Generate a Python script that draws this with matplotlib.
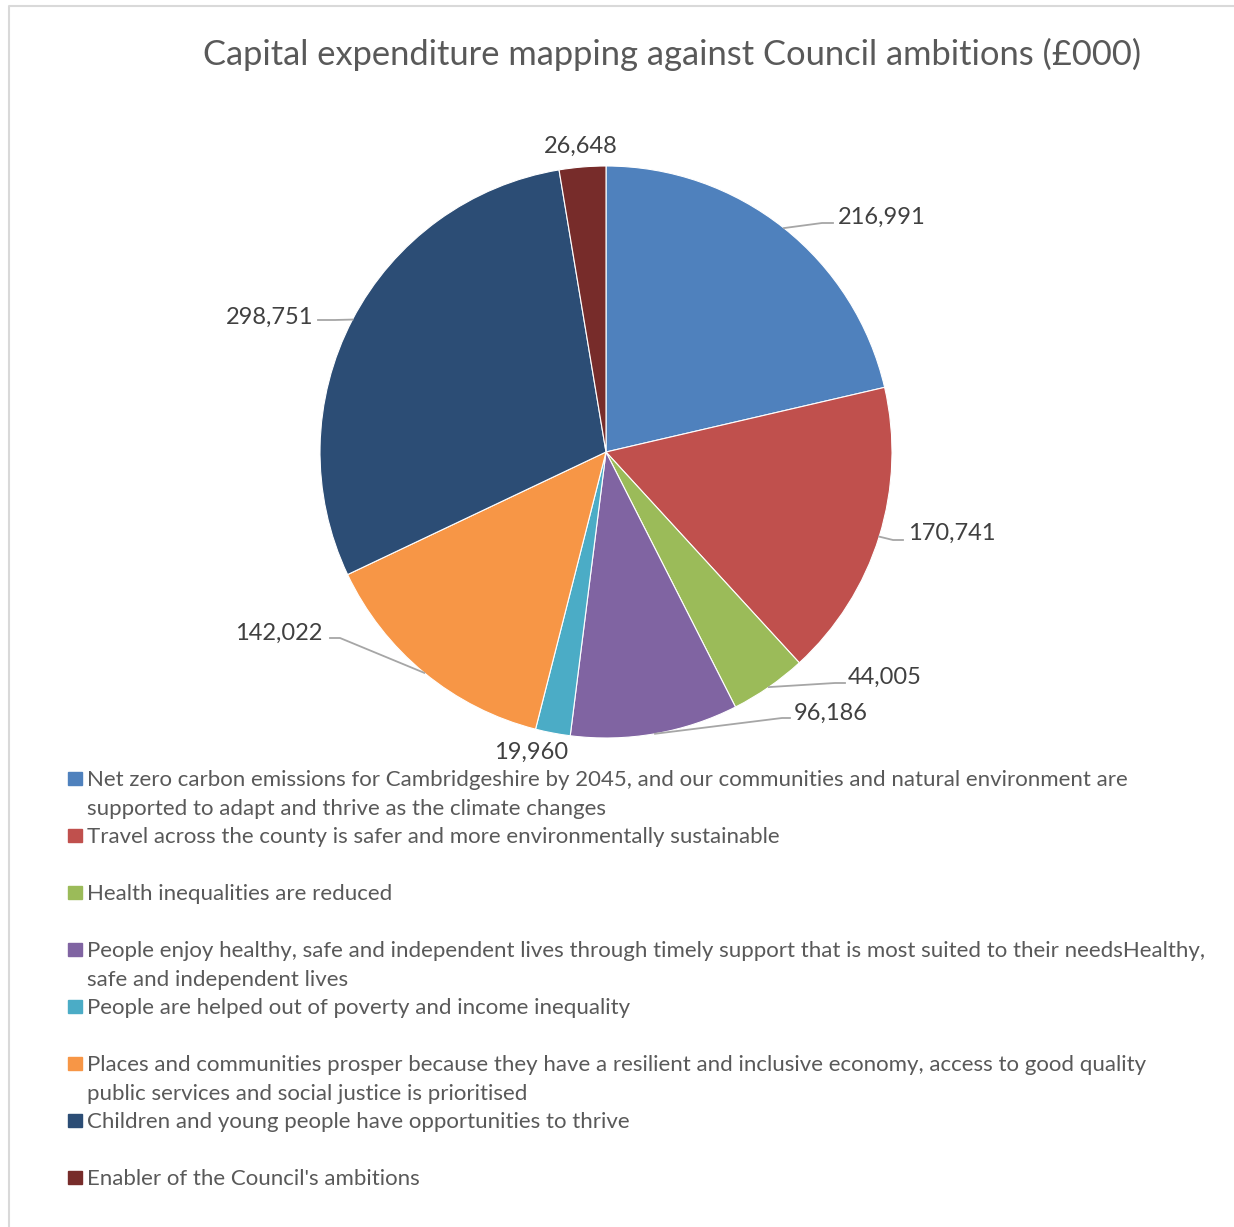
import matplotlib.pyplot as plt
import numpy as np
from matplotlib.patches import Rectangle
from matplotlib.lines import Line2D

# chart data
ambitions = [
    "Net zero carbon emissions for Cambridgeshire by 2045, and our communities and natural environment are\nsupported to adapt and thrive as the climate changes",
    "Travel across the county is safer and more environmentally sustainable",
    "Health inequalities are reduced",
    "People enjoy healthy, safe and independent lives through timely support that is most suited to their needsHealthy,\nsafe and independent lives",
    "People are helped out of poverty and income inequality",
    "Places and communities prosper because they have a resilient and inclusive economy, access to good quality\npublic services and social justice is prioritised",
    "Children and young people have opportunities to thrive",
    "Enabler of the Council's ambitions",
]
spend = [216991, 170741, 44005, 96186, 19960, 142022, 298751, 26648]
colors = ["#4F81BD", "#C0504D", "#9BBB59", "#8064A2", "#4BACC6",
          "#F79646", "#2C4D75", "#772C2A"]

plt.rcParams['font.family'] = ['Lato', 'DejaVu Sans']

W, H = 1234, 1227
fig = plt.figure(figsize=(W / 100, H / 100), dpi=100)

# outer frame (only left and top edges are visible in the crop)
fig.lines.append(Line2D([8.5 / W, 8.5 / W, 1], [0, 1 - 5.5 / H, 1 - 5.5 / H],
                        transform=fig.transFigure, color="#D9D9D9", lw=1.5))

fig.text(672 / W, 1 - 54 / H,
         "Capital expenditure mapping against Council ambitions (£000)",
         ha="center", va="center", fontsize=24.8, color="#595959")

cx, cy, r = 606, 452, 286
ax = fig.add_axes([(cx - r) / W, 1 - (cy + r) / H, 2 * r / W, 2 * r / H])
wedges, _ = ax.pie(spend, colors=colors, startangle=90, counterclock=False,
                   radius=1, wedgeprops=dict(linewidth=0.8, edgecolor="white"))
ax.set_xlim(-1, 1)
ax.set_ylim(-1, 1)
ax.set_aspect("equal")
ax.axis("off")


def px(x, y):
    return (x - cx) / r, (cy - y) / r


# label placement (pixel coords of text anchor, alignment, elbow of leader line)
label_pos = [
    ((838, 217), "left", (822, 223), (833, 223)),
    ((908, 533), "left", (893, 540), (903, 540)),
    ((848, 677), "left", (835, 683), (845, 683)),
    ((794, 713), "left", (782, 718), (790, 718)),
    ((531, 752), "center", None, None),
    ((322, 633), "right", (340, 638), (330, 638)),
    ((313, 317), "right", (335, 320), (318, 320)),
    ((581, 146), "center", None, None),
]

for w, val, (tp, ha, elbow, end) in zip(wedges, spend, label_pos):
    tx, ty = px(*tp)
    ax.text(tx, ty, f"{val:,}", ha=ha, va="center", fontsize=17,
            color="#404040")
    if elbow is not None:
        ang = np.deg2rad((w.theta1 + w.theta2) / 2)
        ex, ey = np.cos(ang), np.sin(ang)
        bx, by = px(*elbow)
        fx, fy = px(*end)
        ax.plot([ex, bx, fx], [ey, by, fy], color="#A6A6A6", lw=1.3,
                clip_on=False)

# legend
y0 = 778
for i, (lab, c) in enumerate(zip(ambitions, colors)):
    y = y0 + 57 * i
    fig.patches.append(Rectangle((68 / W, 1 - (y + 7) / H), 13.5 / W, 13.5 / H,
                                 transform=fig.transFigure, color=c))
    for j, line in enumerate(lab.split("\n")):
        fig.text(87 / W, 1 - (y + 2 + 29 * j) / H, line, ha="left", va="center",
                 fontsize=16, color="#595959")

fig.savefig("out.png", dpi=100)
